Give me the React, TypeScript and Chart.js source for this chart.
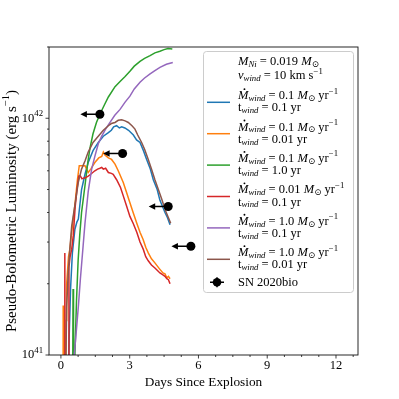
import { useEffect, useRef } from "react";
import { Chart, registerables } from "chart.js";

Chart.register(...registerables);

const FONT = '"Liberation Serif", "DejaVu Serif", serif';

// ---- data (luminosity in units of 1e41 erg/s) ----
const blueDays = [0.30,0.36,0.42,0.50,0.61,0.70,0.76,0.90,1.05,1.19,1.40,1.63,1.85,2.07,2.20,2.30,2.43,2.55,2.65,2.79,2.95,3.16,3.30,3.45,3.60,3.74,3.90,4.03,4.20,4.32,4.45,4.54,4.65,4.76];
const blueLum = [0.5,1.2,1.9,2.7,3.4,3.65,3.75,5.0,5.8,6.5,7.3,7.9,8.4,8.7,8.9,9.2,9.3,9.1,9.2,9.1,8.9,8.5,8.1,7.9,7.3,6.7,6.1,5.5,5.0,4.5,4.2,4.0,3.8,3.55];

const orangeDays = [0.09,0.10,0.12,0.20,0.23,0.25,0.33,0.39,0.47,0.61,0.72,0.80,0.90,1.05,1.12,1.19,1.30,1.48,1.65,1.78,1.85,1.92,2.07,2.21,2.36,2.50,2.72,2.85,3.01,3.15,3.31,3.45,3.59,3.70,3.81,3.95,4.10,4.20,4.32,4.45,4.54,4.62,4.69,4.76];
const orangeLum = [0.3,1.62,0.3,0.5,1.4,2.0,2.6,2.8,3.3,4.3,5.5,6.3,6.3,6.3,6.1,5.9,6.1,6.5,6.8,6.9,7.2,7.0,6.8,6.7,6.4,6.0,5.35,4.9,4.4,4.0,3.6,3.3,3.07,2.85,2.7,2.55,2.45,2.38,2.3,2.22,2.2,2.12,2.15,2.1];

const greenDays = [0.50,0.53,0.55,0.61,0.68,0.75,0.82,0.90,1.05,1.18,1.27,1.40,1.55,1.70,1.90,2.07,2.36,2.58,2.80,3.01,3.20,3.45,3.65,3.89,4.10,4.32,4.50,4.67,4.86];
const greenLum = [0.4,1.9,0.5,1.0,1.7,2.5,3.2,4.0,5.2,6.6,7.5,8.6,9.6,10.4,11.4,12.3,13.6,14.3,15.0,15.8,16.6,17.4,17.9,18.4,18.9,19.2,19.5,19.7,19.6];

const redDays = [0.15,0.17,0.19,0.32,0.35,0.40,0.47,0.54,0.62,0.70,0.78,0.85,0.92,1.00,1.05,1.19,1.30,1.48,1.60,1.70,1.78,1.85,1.95,2.07,2.20,2.28,2.43,2.60,2.72,2.85,3.01,3.15,3.31,3.45,3.59,3.70,3.81,3.95,4.10,4.20,4.32,4.45,4.54,4.62,4.69,4.76];
const redLum = [0.3,2.7,0.3,0.5,2.35,2.6,2.8,3.2,4.2,5.0,5.7,5.7,5.55,5.6,5.6,5.7,5.8,6.0,6.1,6.15,6.2,6.1,6.15,5.9,5.85,5.8,5.5,5.1,4.7,4.3,3.85,3.6,3.3,3.0,2.8,2.6,2.5,2.4,2.33,2.28,2.22,2.18,2.15,2.1,2.08,2.0];

const purpleDays = [0.55,0.58,0.64,0.76,0.85,0.97,1.05,1.12,1.19,1.34,1.48,1.63,1.78,1.95,2.14,2.35,2.58,2.80,3.01,3.20,3.45,3.65,3.89,4.10,4.32,4.60,4.88];
const purpleLum = [0.5,1.0,1.16,1.6,2.1,2.9,3.6,4.2,4.9,6.1,6.9,7.8,8.4,9.0,9.6,10.3,10.9,11.7,12.4,13.3,14.2,14.8,15.4,15.9,16.4,16.9,17.2];

const brownDays = [0.20,0.22,0.25,0.32,0.39,0.47,0.61,0.755,0.90,1.05,1.19,1.40,1.63,1.85,2.07,2.20,2.36,2.50,2.65,2.80,2.94,3.10,3.23,3.35,3.52,3.65,3.81,3.95,4.10,4.25,4.40,4.55,4.69,4.79];
const brownLum = [0.5,1.0,1.6,2.24,2.8,3.5,4.3,5.35,6.1,6.6,7.2,7.9,8.4,8.9,9.3,9.5,9.6,9.8,9.85,9.75,9.6,9.3,9.0,8.5,7.9,7.4,6.7,6.1,5.5,5.0,4.55,4.1,3.8,3.6];

const snDays = [1.70, 2.69, 4.68, 5.67];
const snLum = [10.4, 7.1, 4.24, 2.88];
const snLimitDays = 0.85; // length of upper-limit arrow (days)

const seriesColors = ["#1f77b4", "#ff7f0e", "#2ca02c", "#d62728", "#9467bd", "#8c564b"];
const mdotLabels = ["0.1", "0.1", "0.1", "0.01", "1.0", "1.0"];
const twindLabels = ["0.1", "0.01", "1.0", "0.1", "0.1", "0.01"];

const xTicks = [0, 3, 6, 9, 12];
const xMinorStep = 0.75;
const yMajorExp = [41, 42];
const X_MIN = -0.52;
const X_MAX = 12.96;
const Y_MIN = 1e41;
const Y_MAX = 2e42;
const UNIT = 1e41;

type Seg = { t: string; s?: "i" | "idot" | "sub" | "subn" | "sup" };

function segFont(seg: Seg, size: number): [string, number] {
  switch (seg.s) {
    case "i":
    case "idot":
      return [`italic ${size}px ${FONT}`, 0];
    case "sub":
      return [`italic ${size * 0.7}px ${FONT}`, size * 0.22];
    case "subn":
      return [`${size * 0.7}px ${FONT}`, size * 0.22];
    case "sup":
      return [`${size * 0.7}px ${FONT}`, -size * 0.38];
    default:
      return [`${size}px ${FONT}`, 0];
  }
}

function measureRich(ctx: CanvasRenderingContext2D, segs: Seg[], size: number) {
  let w = 0;
  for (const s of segs) {
    ctx.font = segFont(s, size)[0];
    w += ctx.measureText(s.t).width;
  }
  return w;
}

function drawRich(ctx: CanvasRenderingContext2D, segs: Seg[], x: number, y: number, size: number) {
  let cx = x;
  ctx.textAlign = "left";
  ctx.textBaseline = "middle";
  for (const s of segs) {
    const [f, dy] = segFont(s, size);
    ctx.font = f;
    ctx.fillText(s.t, cx, y + dy);
    const w = ctx.measureText(s.t).width;
    if (s.s === "idot") {
      ctx.beginPath();
      ctx.arc(cx + w * 0.62, y - size * 0.55, size * 0.075, 0, Math.PI * 2);
      ctx.fill();
    }
    cx += w;
  }
  return cx - x;
}

const decor = {
  id: "decor",
  afterDraw(chart: any) {
    const ctx: CanvasRenderingContext2D = chart.ctx;
    const ca = chart.chartArea;
    const xs = chart.scales.x;
    const ys = chart.scales.y;
    ctx.save();
    ctx.fillStyle = "#000";
    ctx.strokeStyle = "#000";

    // upper-limit arrows
    ctx.lineWidth = 1.5;
    snDays.forEach((d, i) => {
      const x0 = xs.getPixelForValue(d);
      const x1 = xs.getPixelForValue(d - snLimitDays);
      const y = ys.getPixelForValue(snLum[i] * UNIT);
      ctx.beginPath();
      ctx.moveTo(x0, y);
      ctx.lineTo(x1 + 4, y);
      ctx.stroke();
      ctx.beginPath();
      ctx.moveTo(x1, y);
      ctx.lineTo(x1 + 6.5, y - 3.2);
      ctx.lineTo(x1 + 6.5, y + 3.2);
      ctx.closePath();
      ctx.fill();
    });

    // frame
    ctx.lineWidth = 0.9;
    ctx.strokeStyle = "#111";
    ctx.strokeRect(ca.left, ca.top, ca.right - ca.left, ca.bottom - ca.top);

    // x ticks
    ctx.lineWidth = 0.8;
    const kMin = Math.ceil(X_MIN / xMinorStep);
    const kMax = Math.floor(X_MAX / xMinorStep);
    for (let k = kMin; k <= kMax; k++) {
      const v = k * xMinorStep;
      const isMajor = xTicks.some((t) => Math.abs(t - v) < 1e-6);
      const px = xs.getPixelForValue(v);
      ctx.beginPath();
      ctx.moveTo(px, ca.bottom);
      ctx.lineTo(px, ca.bottom + (isMajor ? 3.5 : 2));
      ctx.stroke();
    }
    ctx.font = `12.5px ${FONT}`;
    ctx.textAlign = "center";
    ctx.textBaseline = "middle";
    xTicks.forEach((t) => {
      ctx.fillText(String(t), xs.getPixelForValue(t), ca.bottom + 10.5);
    });

    // y ticks
    for (let e = 41; e <= 42; e++) {
      for (let m = 1; m <= 9; m++) {
        const v = m * Math.pow(10, e);
        if (v < Y_MIN * 0.999 || v > Y_MAX * 1.001) continue;
        const py = ys.getPixelForValue(v);
        ctx.beginPath();
        ctx.moveTo(ca.left, py);
        ctx.lineTo(ca.left - (m === 1 ? 3.5 : 2), py);
        ctx.stroke();
      }
    }
    yMajorExp.forEach((e) => {
      const py = ys.getPixelForValue(Math.pow(10, e));
      const segs: Seg[] = [{ t: "10" }, { t: String(e), s: "sup" }];
      const w = measureRich(ctx, segs, 12.5);
      drawRich(ctx, segs, ca.left - 6 - w, py, 12.5);
    });

    // axis titles
    ctx.font = `13.3px ${FONT}`;
    ctx.textAlign = "center";
    ctx.textBaseline = "middle";
    ctx.fillText("Days Since Explosion", (ca.left + ca.right) / 2, ca.bottom + 28);

    const ySegs: Seg[] = [{ t: "Pseudo-Bolometric Luminosity (erg s" }, { t: "−1", s: "sup" }, { t: ")" }];
    ctx.save();
    ctx.translate(12, 211);
    ctx.rotate(-Math.PI / 2);
    const yw = measureRich(ctx, ySegs, 15);
    drawRich(ctx, ySegs, -yw / 2, 0, 15);
    ctx.restore();

    // legend
    const lx = 203, ly = 51, lw = 150, lh = 241;
    ctx.beginPath();
    ctx.roundRect(lx + 0.5, ly + 0.5, lw, lh, 3);
    ctx.fillStyle = "rgba(255,255,255,0.8)";
    ctx.fill();
    ctx.strokeStyle = "#cccccc";
    ctx.lineWidth = 1;
    ctx.stroke();
    ctx.fillStyle = "#000";
    const fs = 12.5;
    const tx = 238;
    drawRich(ctx, [{ t: "M", s: "i" }, { t: "Ni", s: "sub" }, { t: " = 0.019 " }, { t: "M", s: "i" }, { t: "⊙", s: "subn" }], tx, 62, fs);
    drawRich(ctx, [{ t: "v", s: "i" }, { t: "wind", s: "sub" }, { t: " = 10 km s" }, { t: "−1", s: "sup" }], tx, 76, fs);
    seriesColors.forEach((c, i) => {
      const cy = 102.3 + i * 31.4;
      ctx.strokeStyle = c;
      ctx.lineWidth = 1.5;
      ctx.beginPath();
      ctx.moveTo(207, cy);
      ctx.lineTo(230, cy);
      ctx.stroke();
      ctx.fillStyle = "#000";
      drawRich(ctx, [{ t: "M", s: "idot" }, { t: "wind", s: "sub" }, { t: ` = ${mdotLabels[i]} ` }, { t: "M", s: "i" }, { t: "⊙", s: "subn" }, { t: " yr" }, { t: "−1", s: "sup" }], tx, cy - 6.3, fs);
      drawRich(ctx, [{ t: "t" }, { t: "wind", s: "sub" }, { t: ` = ${twindLabels[i]} yr` }], tx, cy + 5.9, fs);
    });
    // SN marker in legend
    const sy = 282.3, sx = 217;
    ctx.strokeStyle = "#000";
    ctx.lineWidth = 1.5;
    ctx.beginPath();
    ctx.moveTo(sx - 7, sy); ctx.lineTo(sx + 7, sy);
    ctx.moveTo(sx, sy - 5); ctx.lineTo(sx, sy + 5);
    ctx.stroke();
    ctx.beginPath();
    ctx.arc(sx, sy, 4.3, 0, Math.PI * 2);
    ctx.fill();
    drawRich(ctx, [{ t: "SN 2020bio" }], tx, sy, fs);
    ctx.restore();
  },
};

export default function App() {
  const ref = useRef<HTMLCanvasElement>(null);
  useEffect(() => {
    const canvas = ref.current!;
    const mk = (d: number[], l: number[]) => d.map((x, i) => ({ x, y: l[i] * UNIT }));
    const series = [
      mk(blueDays, blueLum),
      mk(orangeDays, orangeLum),
      mk(greenDays, greenLum),
      mk(redDays, redLum),
      mk(purpleDays, purpleLum),
      mk(brownDays, brownLum),
    ];
    const datasets: any[] = series.map((data, i) => ({
      data,
      borderColor: seriesColors[i],
      backgroundColor: seriesColors[i],
      borderWidth: 1.5,
      pointRadius: 0,
      tension: 0,
      fill: false,
      order: 10 - i,
    }));
    datasets.push({
      data: snDays.map((x, i) => ({ x, y: snLum[i] * UNIT })),
      showLine: false,
      pointRadius: 4.5,
      pointBackgroundColor: "#000",
      pointBorderColor: "#000",
      borderWidth: 0,
      order: 0,
    });
    const chart = new Chart(canvas, {
      type: "line",
      data: { datasets },
      options: {
        animation: false,
        responsive: false,
        devicePixelRatio: 1,
        events: [],
        layout: { padding: { left: 49, right: 41, top: 47, bottom: 44 } },
        plugins: { legend: { display: false }, tooltip: { enabled: false } },
        scales: {
          x: { type: "linear", min: X_MIN, max: X_MAX, display: false },
          y: { type: "logarithmic", min: Y_MIN, max: Y_MAX, display: false },
        },
      },
      plugins: [decor],
    });
    return () => chart.destroy();
  }, []);
  return (
    <div style={{ position: "fixed", left: 0, top: 0, width: 399, height: 399, background: "#fff" }}>
      <canvas ref={ref} width={399} height={399} style={{ display: "block" }} />
    </div>
  );
}
